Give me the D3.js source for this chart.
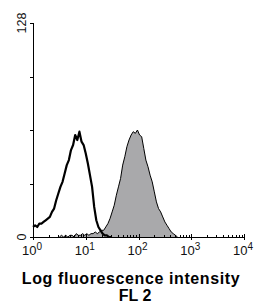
<!DOCTYPE html>
<html>
<head>
<meta charset="utf-8">
<script src="https://cdn.jsdelivr.net/npm/d3@7"></script>
<style>
  body { margin: 0; background: #fff; }
  svg { display: block; font-family: "Liberation Sans", Arial, sans-serif; }
</style>
</head>
<body>
<div id="chart"></div>
<script>
// control (unfilled black outline): [log10 decade, count]
const control = [
  [0.00, 6], [0.04, 7], [0.08, 6], [0.12, 8], [0.16, 8], [0.20, 9], [0.24, 10],
  [0.28, 11], [0.32, 12], [0.36, 15], [0.40, 17], [0.44, 22], [0.48, 26],
  [0.52, 30], [0.56, 33], [0.60, 38], [0.64, 43], [0.68, 46], [0.72, 52],
  [0.76, 55], [0.80, 61], [0.84, 58], [0.88, 63], [0.92, 57], [0.96, 55],
  [1.00, 50], [1.04, 44], [1.08, 37], [1.12, 30], [1.16, 18], [1.20, 10],
  [1.24, 6], [1.28, 4], [1.32, 2], [1.36, 1], [1.40, 1], [1.44, 0], [1.48, 0]
];

// stained sample (grey filled)
const stained = [
  [0.50, 0], [0.54, 1], [0.58, 0], [0.62, 1], [0.66, 0], [0.70, 1], [0.74, 1],
  [0.78, 0], [0.82, 2], [0.86, 1], [0.90, 1], [0.94, 2], [0.98, 1], [1.02, 2],
  [1.06, 1], [1.10, 2], [1.14, 2], [1.18, 3], [1.22, 2], [1.26, 3], [1.30, 4],
  [1.34, 4], [1.38, 6], [1.42, 8], [1.46, 11], [1.50, 15], [1.54, 19],
  [1.58, 25], [1.62, 30], [1.66, 35], [1.70, 43], [1.74, 48], [1.78, 54],
  [1.82, 58], [1.86, 61], [1.90, 63], [1.94, 62], [1.98, 64], [2.02, 61],
  [2.06, 60], [2.10, 53], [2.14, 46], [2.18, 42], [2.22, 37], [2.26, 33],
  [2.30, 27], [2.34, 21], [2.38, 17], [2.42, 15], [2.46, 12], [2.50, 9],
  [2.54, 7], [2.58, 5], [2.62, 3], [2.66, 2], [2.70, 1], [2.74, 0]
];

const xMajor = [0, 1, 2, 3, 4];
const yTicks = [0, 32, 64, 96, 128];
const yLabels = ["0", "128"];
const xTitle = "Log fluorescence intensity";
const xSubtitle = "FL 2";

const W = 257, H = 307;
const margin = { top: 23, left: 33, right: 13, bottom: 70 };

const svg = d3.select("#chart").append("svg")
  .attr("width", W).attr("height", H);

const x = d3.scaleLinear().domain([0, 4]).range([margin.left, W - margin.right]);
const y = d3.scaleLinear().domain([0, 128]).range([H - margin.bottom, margin.top]);

// grey filled histogram
const area = d3.area()
  .x(d => x(d[0]))
  .y0(y(0))
  .y1(d => y(d[1]));
const line = d3.line()
  .x(d => x(d[0]))
  .y(d => y(d[1]));

svg.append("path")
  .datum(stained)
  .attr("d", area)
  .attr("fill", "#a9a9ab");
svg.append("path")
  .datum(stained)
  .attr("d", line)
  .attr("fill", "none")
  .attr("stroke", "#000")
  .attr("stroke-width", 1);

// control outline
svg.append("path")
  .datum(control)
  .attr("d", line)
  .attr("fill", "none")
  .attr("stroke", "#000")
  .attr("stroke-width", 2.2)
  .attr("stroke-linejoin", "round");

// axes
const ax = svg.append("g").attr("stroke", "#000").attr("stroke-width", 1);
ax.append("line")
  .attr("x1", x(0) + 0.5).attr("x2", x(0) + 0.5)
  .attr("y1", y(128)).attr("y2", y(0));
ax.append("line")
  .attr("x1", x(0)).attr("x2", x(4))
  .attr("y1", y(0) + 0.5).attr("y2", y(0) + 0.5);

// y ticks
ax.selectAll(".yt").data(yTicks).enter().append("line")
  .attr("x1", x(0) - 3).attr("x2", x(0))
  .attr("y1", d => Math.round(y(d)) + 0.5).attr("y2", d => Math.round(y(d)) + 0.5);

// x minor ticks (log spacing inside each decade)
const minor = [];
xMajor.slice(0, -1).forEach(dec => {
  for (let k = 2; k <= 9; k++) minor.push(dec + Math.log10(k));
});
ax.selectAll(".xm").data(minor).enter().append("line")
  .attr("x1", d => Math.round(x(d)) + 0.5).attr("x2", d => Math.round(x(d)) + 0.5)
  .attr("y1", y(0) - 2).attr("y2", y(0));
ax.selectAll(".xt").data(xMajor).enter().append("line")
  .attr("x1", d => Math.round(x(d)) + 0.5).attr("x2", d => Math.round(x(d)) + 0.5)
  .attr("y1", y(0) - 3).attr("y2", y(0) + 3);

// y labels, rotated
svg.selectAll(".yl").data([0, 128]).enter().append("text")
  .attr("transform", d => `translate(${x(0) - 7},${y(d)}) rotate(-90)`)
  .attr("text-anchor", "middle")
  .attr("font-size", 12.5)
  .attr("fill", "#111")
  .text((d, i) => yLabels[i]);

// x labels 10^n
const xl = svg.selectAll(".xl").data(xMajor).enter().append("text")
  .attr("x", d => x(d) - 1)
  .attr("y", y(0) + 18)
  .attr("text-anchor", "middle")
  .attr("font-size", 13)
  .attr("fill", "#111");
xl.append("tspan").text("10");
xl.append("tspan").attr("dy", -5).attr("font-size", 10).text(d => d);

// titles
svg.append("text")
  .attr("x", 131).attr("y", 284)
  .attr("text-anchor", "middle")
  .attr("font-size", 16).attr("font-weight", "bold")
  .attr("letter-spacing", 0.6)
  .text(xTitle);
svg.append("text")
  .attr("x", 135).attr("y", 301)
  .attr("text-anchor", "middle")
  .attr("font-size", 16).attr("font-weight", "bold")
  .text(xSubtitle);
</script>
</body>
</html>
